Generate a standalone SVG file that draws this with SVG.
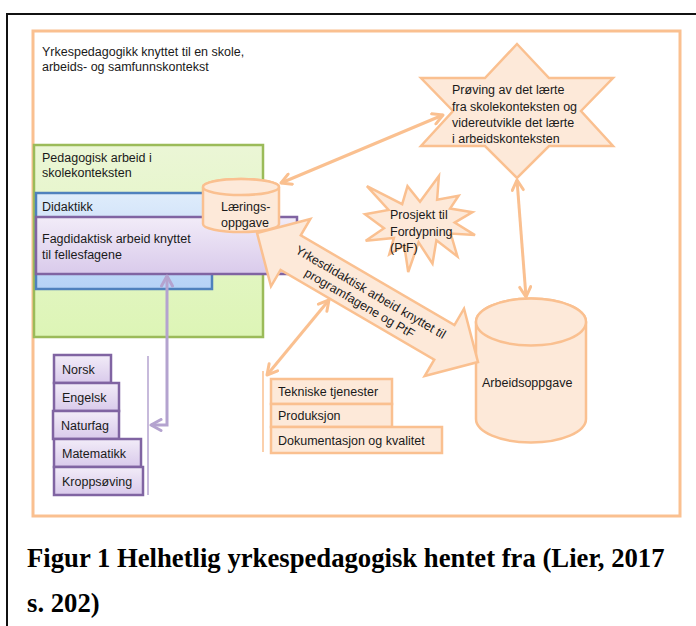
<svg xmlns="http://www.w3.org/2000/svg" width="696" height="626" viewBox="0 0 696 626">
<style>
  .t { font-family: "Liberation Sans", Arial, sans-serif; font-size: 12.5px; fill: #1a1a1a; }
  .cap { font-family: "Liberation Serif", "Times New Roman", serif; font-size: 26.7px; font-weight: bold; fill: #000; }
  .peach { fill: #FDE9D9; stroke: #FAC090; stroke-width: 2.5; }
  .oline { fill: none; stroke: #FAC090; stroke-width: 3; }
  .pline { fill: none; stroke: #B4A3CF; stroke-width: 3; }
  .subj { fill: url(#gPurple); stroke: #8064A2; stroke-width: 2.5; }
</style>
<defs>
  <linearGradient id="gGreen" x1="0" y1="0" x2="0" y2="1">
    <stop offset="0" stop-color="#EBF6D6"/>
    <stop offset="1" stop-color="#DDF5B6"/>
  </linearGradient>
  <linearGradient id="gBlue" x1="0" y1="0" x2="0" y2="1">
    <stop offset="0" stop-color="#DFECFB"/>
    <stop offset="1" stop-color="#B5D2F6"/>
  </linearGradient>
  <linearGradient id="gPurple" x1="0" y1="0" x2="0" y2="1">
    <stop offset="0" stop-color="#F2ECF8"/>
    <stop offset="1" stop-color="#D9CAEB"/>
  </linearGradient>
  <marker id="oa" viewBox="0 0 14 14" refX="12" refY="7" markerWidth="14" markerHeight="14" markerUnits="userSpaceOnUse" orient="auto-start-reverse">
    <path d="M2,1.5 L12,7 L2,12.5" fill="none" stroke="#FAC090" stroke-width="3" stroke-linecap="round" stroke-linejoin="round"/>
  </marker>
  <marker id="pa" viewBox="0 0 14 14" refX="12" refY="7" markerWidth="14" markerHeight="14" markerUnits="userSpaceOnUse" orient="auto-start-reverse">
    <path d="M2,1.5 L12,7 L2,12.5" fill="none" stroke="#B4A3CF" stroke-width="3" stroke-linecap="round" stroke-linejoin="round"/>
  </marker>
</defs>

<rect x="0" y="0" width="696" height="626" fill="#fff"/>
<!-- page frame -->
<path d="M696,14 L7,14 L7,626" fill="none" stroke="#111" stroke-width="2"/>
<!-- outer context frame -->
<g id="context">
  <rect x="33" y="31" width="647" height="485" fill="#fff" stroke="#FAC090" stroke-width="3"/>
  <text class="t" x="42" y="56">Yrkespedagogikk knyttet til en skole,</text>
  <text class="t" x="42" y="71">arbeids- og samfunnskontekst</text>
</g>

<g id="skole">
  <rect x="34" y="145" width="229" height="192" fill="url(#gGreen)" stroke="#9BBB59" stroke-width="2.5"/>
  <text class="t" x="42" y="162">Pedagogisk arbeid i</text>
  <text class="t" x="42" y="177">skolekonteksten</text>
</g>
<g id="didaktikk">
  <rect x="36" y="193" width="176" height="96" fill="url(#gBlue)" stroke="#4F81BD" stroke-width="2.5"/>
  <text class="t" x="42" y="211">Didaktikk</text>
</g>
<g id="fagdidaktisk">
  <rect x="36" y="217" width="261" height="57" fill="url(#gPurple)" stroke="#8064A2" stroke-width="2.5"/>
  <text class="t" x="42" y="243">Fagdidaktisk arbeid knyttet</text>
  <text class="t" x="42" y="259">til fellesfagene</text>
</g>
<g id="laeringsoppgave">
  <path class="peach" d="M203,187 L203,224 A38,8 0 0 0 279,224 L279,187 A38,8 0 0 0 203,187 Z"/>
  <ellipse class="peach" cx="241" cy="187" rx="38" ry="8"/>
  <text class="t" x="221" y="211">Lærings-</text>
  <text class="t" x="221" y="227">oppgave</text>
</g>

<g id="proving">
  <polygon class="peach" points="517,44 549,78 613,78 581,111 613,146 549,146 517,178 485,146 421,146 453,111 421,78 485,78"/>
  <text class="t" x="452" y="94">Prøving av det lærte</text>
  <text class="t" x="452" y="111">fra skolekonteksten og</text>
  <text class="t" x="452" y="127">videreutvikle det lærte</text>
  <text class="t" x="452" y="143">i arbeidskonteksten</text>
</g>

<g id="prosjekt">
  <polygon class="peach" stroke-width="2" points="420,201.8 438.9,176 437.1,199.7 458.6,195.8 450.1,208.5 472.4,212.2 454.7,222.6 475,235.1 450.7,233.5 457.4,256.4 436.4,240.3 432.5,263.7 418.6,242.4 408.2,272 404.3,245.5 389.3,254.3 393.9,237.9 365.7,240.8 384,228.3 365,214.3 388.6,209.9 366.9,186.2 402.2,204.1 407.5,186.2"/>
  <text class="t" x="390" y="219">Prosjekt til</text>
  <text class="t" x="390" y="236">Fordypning</text>
  <text class="t" x="390" y="252">(PtF)</text>
</g>

<g id="arbeidsoppgave">
  <path class="peach" d="M476,322 L476,419 A55,23.5 0 0 0 586,419 L586,322 A55,23.5 0 0 0 476,322 Z"/>
  <ellipse class="peach" cx="531" cy="322" rx="55" ry="23.5"/>
  <text class="t" x="482" y="387">Arbeidsoppgave</text>
</g>

<g id="yrkesdidaktisk">
  <g transform="translate(367.5,297.5) rotate(30.3)">
    <polygon class="peach" points="-128,0 -89,-39 -89,-20 89,-20 89,-39 128,0 89,39 89,20 -89,20 -89,39"/>
    <text class="t" x="0" y="-2" text-anchor="middle">Yrkesdidaktisk arbeid knyttet til</text>
    <text class="t" x="-4" y="13" text-anchor="middle">programfagene og PtF</text>
  </g>
</g>

<g id="fellesfag">
  <g id="norsk"><rect class="subj" x="54" y="355" width="57" height="28"/><text class="t" x="62" y="373.5">Norsk</text></g>
  <g id="engelsk"><rect class="subj" x="54" y="383" width="65" height="28"/><text class="t" x="62" y="401.5">Engelsk</text></g>
  <g id="naturfag"><rect class="subj" x="53" y="411" width="66" height="28"/><text class="t" x="61" y="429.5">Naturfag</text></g>
  <g id="matematikk"><rect class="subj" x="54" y="439" width="87" height="28"/><text class="t" x="62" y="457.5">Matematikk</text></g>
  <g id="kroppsoving"><rect class="subj" x="54" y="467" width="89" height="28"/><text class="t" x="62" y="485.5">Kroppsøving</text></g>
</g>

<g id="programfag">
  <g id="tekniske"><rect class="peach" x="271" y="379" width="121" height="25"/><text class="t" x="278" y="396">Tekniske tjenester</text></g>
  <g id="produksjon"><rect class="peach" x="271" y="404" width="121" height="23"/><text class="t" x="278" y="420">Produksjon</text></g>
  <g id="dokumentasjon"><rect class="peach" x="271" y="427" width="171" height="26"/><text class="t" x="278" y="444.5">Dokumentasjon og kvalitet</text></g>
</g>

<g id="connectors">
  <line class="oline" x1="281" y1="183" x2="443" y2="115" marker-start="url(#oa)" marker-end="url(#oa)"/>
  <line class="oline" x1="517" y1="180" x2="526" y2="297" marker-start="url(#oa)" marker-end="url(#oa)"/>
  <line class="oline" x1="267" y1="375" x2="329" y2="300" marker-start="url(#oa)" marker-end="url(#oa)"/>
  <line x1="263" y1="371" x2="263" y2="452" stroke="#FAC090" stroke-width="1.5"/>
  <path class="pline" d="M167,276 L167,425 L151,425" marker-start="url(#pa)" marker-end="url(#pa)"/>
  <line x1="148" y1="356" x2="148" y2="495" stroke="#B4A3CF" stroke-width="1.5"/>
</g>

<g id="caption">
  <text class="cap" x="27" y="567">Figur 1 Helhetlig yrkespedagogisk hentet fra (Lier, 2017</text>
  <text class="cap" x="27" y="612">s. 202)</text>
</g>
</svg>
